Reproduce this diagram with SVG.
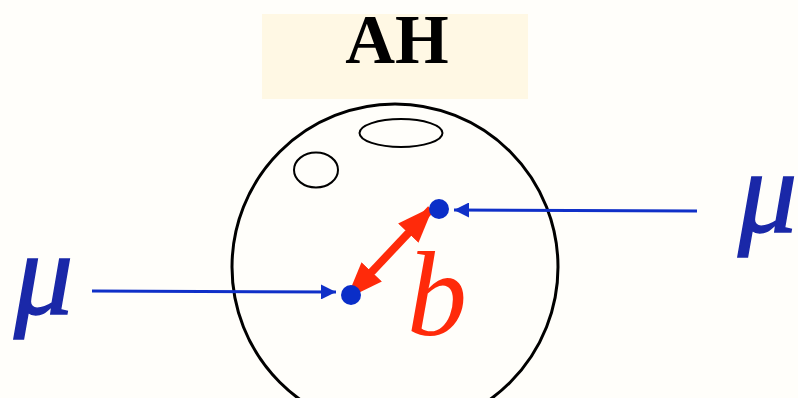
<svg xmlns="http://www.w3.org/2000/svg" width="798" height="398" viewBox="0 0 798 398">
<defs>
<style>
.outline{fill:none;stroke:#000;}
.beam{stroke:#1030c8;stroke-width:3;fill:none;}
.dot{fill:#0a2ec8;}
.mu{font-family:"Liberation Serif","DejaVu Serif",serif;font-style:italic;fill:#1a28a8;stroke:#1a28a8;stroke-width:1.5;font-size:118px;}
</style>
<marker id="blueHead" viewBox="0 0 10 10" refX="10" refY="5" markerWidth="7" markerHeight="5" markerUnits="strokeWidth" orient="auto">
<path d="M0,0 L10,5 L0,10 z" fill="#1030c8"/>
</marker>
<marker id="redHead" viewBox="0 0 10 10" refX="9" refY="5" markerWidth="4.6" markerHeight="4.6" markerUnits="strokeWidth" orient="auto-start-reverse">
<path d="M0,1.2 L10,5 L0,8.8 z" fill="#ff2a0a"/>
</marker>
</defs>
<rect width="798" height="398" fill="#fffefa"/>
<g id="title">
<rect x="262" y="14" width="266" height="85" fill="#fff8e4"/>
<text x="397" y="63" text-anchor="middle" font-family="'Liberation Serif','DejaVu Serif',serif" font-weight="bold" font-size="69" fill="#000">AH</text>
</g>
<g id="nucleus">
<circle class="outline" cx="395" cy="267" r="163" stroke-width="3"/>
<ellipse class="outline" cx="316" cy="170" rx="22" ry="17.5" stroke-width="2"/>
<ellipse class="outline" cx="401" cy="133" rx="41.5" ry="14" stroke-width="2"/>
</g>
<g id="connectors">
<line class="beam" x1="92" y1="291" x2="336" y2="292" marker-end="url(#blueHead)"/>
<line class="beam" x1="697" y1="211" x2="454" y2="210" marker-end="url(#blueHead)"/>
<line x1="349" y1="296" x2="431" y2="209" stroke="#ff2a0a" stroke-width="8" marker-start="url(#redHead)" marker-end="url(#redHead)"/>
</g>
<g id="muon-upper">
<circle class="dot" cx="439" cy="209" r="10"/>
</g>
<g id="muon-lower">
<circle class="dot" cx="351" cy="295" r="10"/>
</g>
<g id="label-mu-left"><text class="mu" x="14" y="314">μ</text></g>
<g id="label-mu-right"><text class="mu" x="738" y="232">μ</text></g>
<g id="label-b"><text x="407" y="335" font-family="'Liberation Serif','DejaVu Serif',serif" font-style="italic" font-size="120" fill="#ff2a0a">b</text></g>
</svg>
